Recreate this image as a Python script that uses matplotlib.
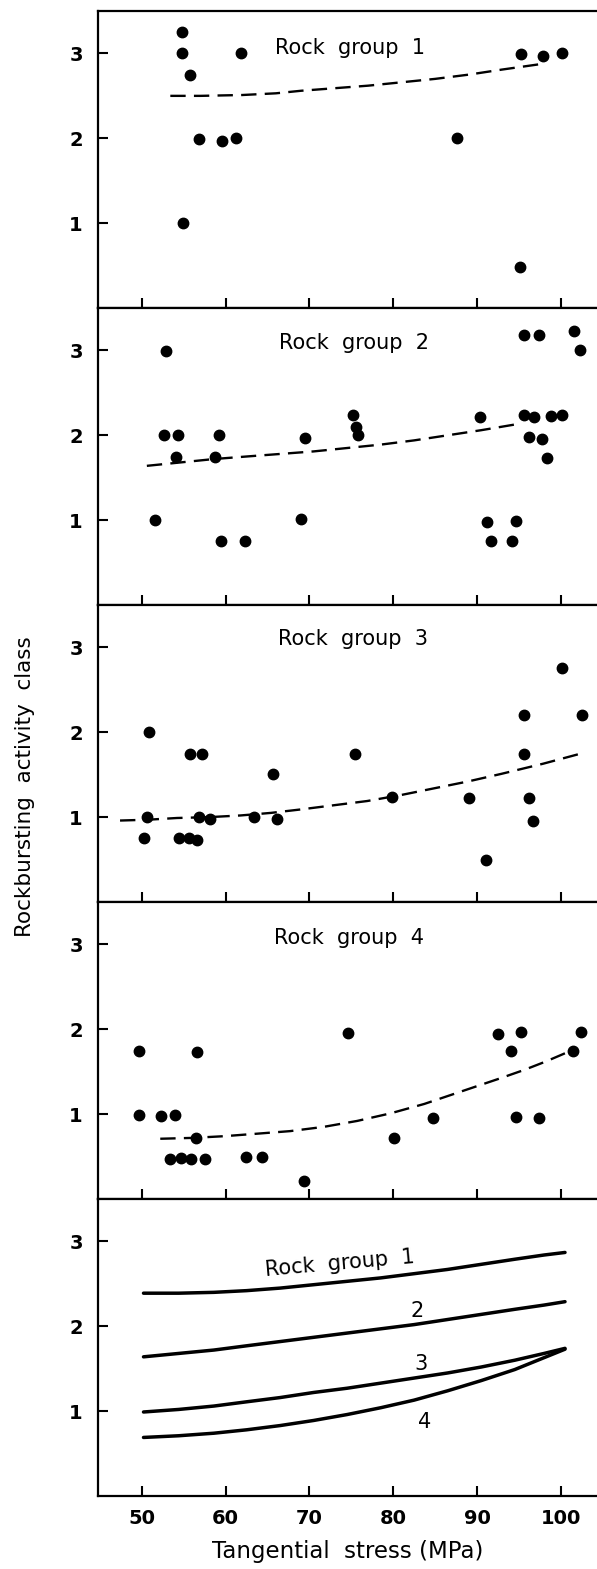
import matplotlib
matplotlib.use('Agg')
import matplotlib.pyplot as plt

# scatter data for each rock group (stress in MPa, activity class)
g1_x = [54.8, 54.8, 55.8, 56.8, 59.6, 61.2, 61.8, 54.9, 87.6, 95.2, 97.9, 100.1, 95.1]
g1_y = [3.25, 3.0, 2.75, 1.99, 1.97, 2.0, 3.0, 1.0, 2.0, 2.99, 2.97, 3.0, 0.48]

g2_x = [52.9, 52.7, 54.3, 54.1, 51.6, 59.2, 58.7, 59.4, 62.3, 69.5, 69.0, 75.2, 75.6, 75.8,
        90.3, 91.2, 91.7, 94.2, 94.7, 95.6, 97.4, 95.6, 96.8, 98.8, 100.2, 96.2, 97.8, 98.4,
        101.6, 102.3]
g2_y = [2.99, 2.0, 2.0, 1.74, 1.0, 2.0, 1.74, 0.75, 0.75, 1.97, 1.01, 2.24, 2.10, 2.0,
        2.21, 0.98, 0.75, 0.75, 0.99, 3.18, 3.18, 2.24, 2.22, 2.23, 2.24, 1.98, 1.96, 1.73,
        3.23, 3.0]

g3_x = [50.8, 50.6, 50.2, 54.4, 55.6, 56.6, 55.7, 57.2, 56.8, 58.1, 63.4, 65.7, 66.1,
        75.4, 79.9, 89.1, 91.1, 95.6, 95.6, 96.2, 96.7, 100.1, 102.5]
g3_y = [2.0, 1.0, 0.75, 0.75, 0.75, 0.73, 1.74, 1.74, 1.0, 0.98, 1.0, 1.51, 0.98,
        1.74, 1.24, 1.23, 0.50, 2.20, 1.74, 1.22, 0.96, 2.76, 2.20]

g4_x = [49.7, 49.7, 52.3, 53.9, 53.4, 54.7, 55.9, 57.5, 56.6, 56.5, 62.4, 64.4, 69.3,
        74.6, 80.1, 84.8, 92.5, 95.2, 94.1, 94.7, 97.4, 101.4, 102.4]
g4_y = [1.74, 0.99, 0.98, 0.99, 0.47, 0.48, 0.47, 0.47, 1.73, 0.72, 0.50, 0.50, 0.21,
        1.96, 0.72, 0.95, 1.95, 1.97, 1.75, 0.97, 0.95, 1.74, 1.97]

# fitted trend curves
c1_x = [53.4, 57, 62, 66, 69, 73, 77, 81, 85, 89, 93, 98]
c1_y = [2.50, 2.50, 2.51, 2.53, 2.56, 2.59, 2.62, 2.66, 2.70, 2.75, 2.81, 2.88]
c2_x = [50.6, 54.6, 58.6, 62.5, 66.5, 70.5, 74.5, 78.5, 82.5, 86.5, 90.5, 95.3]
c2_y = [1.64, 1.68, 1.72, 1.75, 1.78, 1.81, 1.85, 1.89, 1.94, 2.00, 2.06, 2.14]
c3_x = [47.4, 50.8, 54.2, 58.0, 61.8, 65.4, 68.9, 72.9, 76.9, 80.9, 84.9, 88.9, 92.9, 97.9, 102.8]
c3_y = [0.96, 0.97, 0.99, 1.00, 1.02, 1.05, 1.09, 1.14, 1.19, 1.26, 1.34, 1.42, 1.51, 1.63, 1.76]
c4_x = [52.2, 56.0, 59.8, 63.8, 67.7, 71.7, 75.7, 79.7, 83.7, 86.7, 89.7, 92.7, 95.6, 98.2, 100.8]
c4_y = [0.71, 0.72, 0.74, 0.77, 0.80, 0.85, 0.92, 1.01, 1.12, 1.22, 1.32, 1.42, 1.52, 1.62, 1.73]

# summary curves (bottom panel)
s_x = [50.2, 54.4, 58.6, 62.5, 66.5, 70.5, 74.5, 78.5, 82.5, 86.5, 90.5, 94.5, 98.0, 100.5]
s1_y = [2.39, 2.39, 2.40, 2.42, 2.45, 2.49, 2.53, 2.57, 2.62, 2.67, 2.73, 2.79, 2.84, 2.87]
s2_y = [1.64, 1.68, 1.72, 1.77, 1.82, 1.87, 1.92, 1.97, 2.02, 2.08, 2.14, 2.20, 2.25, 2.29]
s3_y = [0.99, 1.02, 1.06, 1.11, 1.16, 1.22, 1.27, 1.33, 1.39, 1.45, 1.52, 1.60, 1.68, 1.74]
s4_y = [0.69, 0.71, 0.74, 0.78, 0.83, 0.89, 0.96, 1.04, 1.13, 1.24, 1.36, 1.49, 1.63, 1.73]

groups = [(g1_x, g1_y, c1_x, c1_y), (g2_x, g2_y, c2_x, c2_y),
          (g3_x, g3_y, c3_x, c3_y), (g4_x, g4_y, c4_x, c4_y)]
title_pos = [(74.9, 3.06), (75.3, 3.09), (75.2, 3.10), (74.7, 3.08)]

plt.rcParams['font.family'] = 'DejaVu Sans'

W, H = 597, 1569
fig = plt.figure(figsize=(W / 100, H / 100), dpi=100)

left = 98 / W
top_px = 11
ph = 297
axes = []
for i in range(5):
    y0 = 1 - (top_px + (i + 1) * ph) / H
    ax = fig.add_axes([left, y0, 1 - left + 0.002, ph / H])
    ax.set_xlim(44.77, 104.46)
    ax.set_ylim(0, 3.5)
    ax.set_xticks([50, 60, 70, 80, 90, 100])
    ax.set_yticks([1, 2, 3])
    ax.tick_params(direction='in', length=7, width=1.5, labelsize=14, pad=9)
    ax.tick_params(axis='y', pad=11)
    for lab in ax.get_yticklabels():
        lab.set_fontweight('bold')
    for s in ax.spines.values():
        s.set_linewidth(1.6)
    ax.spines['right'].set_visible(False)
    if i < 4:
        ax.tick_params(labelbottom=False)
    axes.append(ax)

for i, (gx, gy, cx, cy) in enumerate(groups):
    ax = axes[i]
    ax.plot(gx, gy, 'o', color='k', markersize=7.5)
    ax.plot(cx, cy, color='k', lw=1.7, dashes=(6.5, 3.5))
    tx, ty = title_pos[i]
    ax.text(tx, ty, 'Rock  group  %d' % (i + 1), ha='center', va='center', fontsize=15)

ax = axes[4]
for sy in [s1_y, s2_y, s3_y, s4_y]:
    ax.plot(s_x, sy, color='k', lw=2.5, solid_capstyle='round', solid_joinstyle='round')
ax.text(73.6, 2.74, 'Rock  group  1', ha='center', va='center', fontsize=15, rotation=5)
ax.text(82.9, 2.18, '2', ha='center', va='center', fontsize=15)
ax.text(83.3, 1.55, '3', ha='center', va='center', fontsize=15)
ax.text(83.7, 0.87, '4', ha='center', va='center', fontsize=15)
for lab in ax.get_xticklabels():
    lab.set_fontweight('bold')
ax.set_xlabel('Tangential  stress (MPa)', fontsize=16.5, labelpad=9)

fig.text(25 / W, 1 - 787 / H, 'Rockbursting  activity  class', rotation=90,
         ha='center', va='center', fontsize=15.5)

fig.savefig('out.png', dpi=100)
